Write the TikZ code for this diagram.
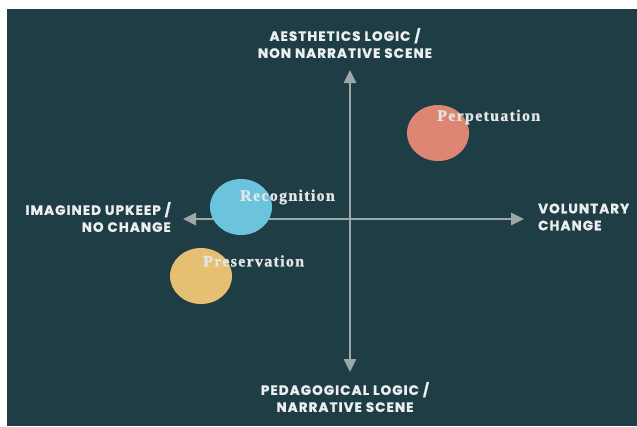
\documentclass[tikz,border=0pt]{standalone}
\usepackage{fontspec}
\setmainfont{Liberation Serif}
\newfontfamily\axisfont[LetterSpace=8, FakeBold=1.2]{Poppins}
\usetikzlibrary{arrows.meta,shapes.geometric}

\definecolor{panel}{HTML}{1F3D45}
\definecolor{axisgray}{HTML}{9EA7A8}
\definecolor{salmon}{HTML}{DE8573}
\definecolor{skyblue}{HTML}{6CC3DE}
\definecolor{sand}{HTML}{E5C073}
\definecolor{labelwhite}{HTML}{ECEFEF}

\tikzset{
  axisline/.style={draw=axisgray, line width=2.6pt,
    -{Triangle[length=13pt,width=12pt]}},
  axislabel/.style={text=labelwhite, font=\axisfont\bfseries\fontsize{13.5}{17}\selectfont,
    inner sep=0pt},
  blob/.style={draw=none, ellipse, minimum width=62pt, minimum height=56pt},
  bloblabel/.style={text=labelwhite!92!gray,
    font=\bfseries\fontsize{16}{18}\selectfont\addfontfeature{LetterSpace=8,FakeBold=1},
    anchor=west, inner sep=0pt}
}

\begin{document}
\begin{tikzpicture}[x=1pt, y=-1pt]
  % page and dark panel
  \useasboundingbox (0,0) rectangle (637,426);
  \fill[white] (0,0) rectangle (637,426);
  \fill[panel] (7,9) rectangle (637,426);

  % axis ends
  \coordinate (vc) at (350,219);
  \coordinate (top) at (350,70);
  \coordinate (bottom) at (350,372);
  \coordinate (left) at (183,219);
  \coordinate (right) at (524,219);

  \draw[axisline] (vc) -- (top);
  \draw[axisline] (vc) -- (bottom);
  \draw[axisline] (vc) -- (left);
  \draw[axisline] (vc) -- (right);

  % axis labels
  \node[axislabel, align=center] (ltop) at (345,43) {AESTHETICS LOGIC /\\NON NARRATIVE SCENE};
  \node[axislabel, align=center] (lbottom) at (345,397) {PEDAGOGICAL LOGIC /\\NARRATIVE SCENE};
  \node[axislabel, align=right, anchor=east] (lleft) at (171,217) {IMAGINED UPKEEP /\\NO CHANGE};
  \node[axislabel, align=left, anchor=west] (lright) at (538,217) {VOLUNTARY\\CHANGE};

  % positioned cases
  \node[blob, fill=salmon] (perp) at (438,133) {};
  \node[blob, fill=skyblue] (recog) at (241,207) {};
  \node[blob, fill=sand] (pres) at (201,276) {};

  \node[bloblabel] (tperp) at (437,117) {Perpetuation};
  \node[bloblabel] (trecog) at (240,197) {Recognition};
  \node[bloblabel] (tpres) at (203,261) {Preservation};
\end{tikzpicture}
\end{document}
